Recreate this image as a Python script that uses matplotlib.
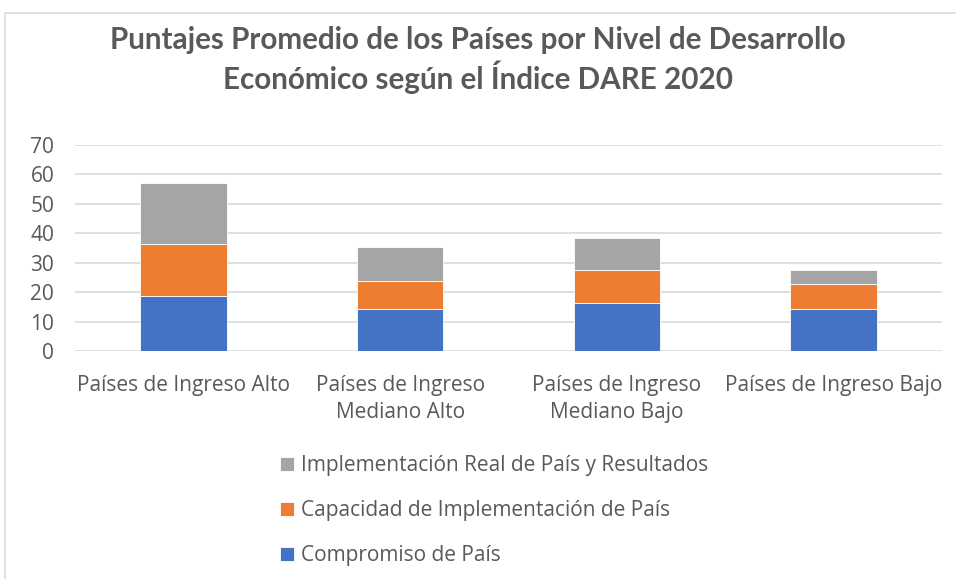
import matplotlib.pyplot as plt
from matplotlib.patches import Rectangle

categorias = ['Países de Ingreso Alto', 'Países de Ingreso\nMediano Alto',
              'Países de Ingreso\nMediano Bajo', 'Países de Ingreso Bajo']
compromiso = [18.8, 14.3, 16.3, 14.3]
capacidad = [17.6, 9.5, 11.3, 8.6]
implementacion = [20.7, 11.4, 10.7, 4.7]

series = ['Compromiso de País', 'Capacidad de Implementación de País',
          'Implementación Real de País y Resultados']
colores = ['#4472C4', '#ED7D31', '#A5A5A5']
gris_texto = '#595959'

plt.rcParams['font.family'] = ['Open Sans', 'DejaVu Sans']

fig = plt.figure(figsize=(9.56, 5.79), dpi=100)
ax = fig.add_axes([75/956, 1 - 351/579, (942 - 75)/956, (351 - 145)/579])

x = range(len(categorias))
abajo = [0] * len(categorias)
barras = []
for vals, col, nom in zip([compromiso, capacidad, implementacion], colores, series):
    b = ax.bar(x, vals, 0.4, bottom=abajo, color=col, edgecolor='white',
               linewidth=0.6, label=nom, zorder=3)
    barras.append(b)
    abajo = [a + v for a, v in zip(abajo, vals)]

ax.set_ylim(0, 70)
ax.set_xlim(-0.5, 3.5)
ax.set_yticks(range(0, 71, 10))
ax.set_xticks(list(x))
ax.set_xticklabels(categorias, linespacing=1.4)
ax.grid(axis='y', color='#d9d9d9', linewidth=1.2, zorder=0)
for s in ax.spines.values():
    s.set_visible(False)
ax.tick_params(length=0, labelsize=15, colors=gris_texto)
ax.tick_params(axis='x', pad=17)
ax.tick_params(axis='y', pad=15)

fig.text(0.5, 1 - 60/579, 'Puntajes Promedio de los Países por Nivel de Desarrollo\n'
         'Económico según el Índice DARE 2020', ha='center', va='center',
         fontsize=21.3, fontweight='bold', color=gris_texto, linespacing=1.22,
         family=['Lato', 'DejaVu Sans'])

leg = fig.legend(handles=barras[::-1], loc='upper left',
                 bbox_to_anchor=(280/956, 1 - 455/579), frameon=False,
                 fontsize=15, labelcolor=gris_texto, handlelength=0.65,
                 handleheight=0.65, handletextpad=0.35, labelspacing=1.15,
                 borderpad=0, borderaxespad=0)

fig.add_artist(Rectangle((5/956, -0.1), 1.1, 1.1 - 13/579, transform=fig.transFigure,
                         fill=False, edgecolor='#d9d9d9', linewidth=1.2))

fig.savefig('out.png', dpi=100)
